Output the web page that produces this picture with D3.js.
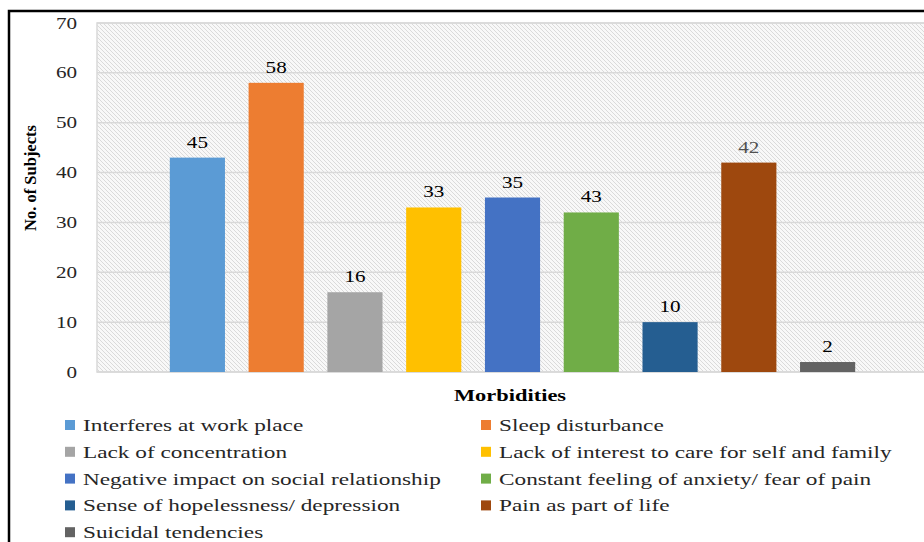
<!DOCTYPE html>
<html>
<head>
<meta charset="utf-8">
<script src="https://cdn.jsdelivr.net/npm/d3@7"></script>
<style>
  html, body { margin: 0; padding: 0; background: #fff; }
  svg { display: block; }
  text { font-family: "Liberation Serif", "Times New Roman", serif; }
</style>
</head>
<body>
<svg id="chart" width="924" height="542"></svg>
<script>
const categories = [
  "Interferes at work place",
  "Sleep disturbance",
  "Lack of concentration",
  "Lack of interest to care for self and family",
  "Negative impact on social relationship",
  "Constant feeling of anxiety/ fear of pain",
  "Sense of hopelessness/ depression",
  "Pain as part of life",
  "Suicidal tendencies"
];
const barValues = [43, 58, 16, 33, 35, 32, 10, 42, 2];
const barLabels = ["45", "58", "16", "33", "35", "43", "10", "42", "2"];
const colors = ["#5B9BD5", "#ED7D31", "#A5A5A5", "#FFC000", "#4472C4", "#70AD47", "#255E91", "#9E480E", "#636363"];
const yTicks = [0, 10, 20, 30, 40, 50, 60, 70];

const SX = 1.32; // horizontal stretch of the source image text
const svg = d3.select("#chart");

const plot = { left: 97, top: 23, right: 930, bottom: 372 };

const y = d3.scaleLinear().domain([0, 70]).range([plot.bottom, plot.top]);
const x = d3.scaleBand().domain(categories).range([158, 867]).paddingInner(0.3).paddingOuter(0.15);

// pattern for plot background
const defs = svg.append("defs");
const pat = defs.append("pattern")
  .attr("id", "hatch").attr("patternUnits", "userSpaceOnUse")
  .attr("width", 4).attr("height", 4);
pat.append("rect").attr("width", 4).attr("height", 4).attr("fill", "#f8f8f8");
pat.append("path").attr("d", "M-1,-1 L5,5 M-1,3 L1,5 M3,-1 L5,1")
  .attr("stroke", "#dadada").attr("stroke-width", 1);

svg.append("rect")
  .attr("x", plot.left).attr("y", plot.top)
  .attr("width", plot.right - plot.left).attr("height", plot.bottom - plot.top)
  .attr("fill", "url(#hatch)")
  .attr("stroke", "#d9d9d9").attr("stroke-width", 1.5);

// gridlines
svg.append("g").selectAll("line").data(yTicks).join("line")
  .attr("x1", plot.left).attr("x2", plot.right)
  .attr("y1", d => y(d)).attr("y2", d => y(d))
  .attr("stroke", "#d9d9d9").attr("stroke-width", 1.5);

function stretchedText(parent, tx, ty, str, opts) {
  const g = parent.append("g").attr("transform", `translate(${tx},${ty}) scale(${opts.sx || SX},1)`);
  return g.append("text")
    .attr("x", 0).attr("y", 0)
    .attr("text-anchor", opts.anchor || "start")
    .attr("font-size", opts.size)
    .attr("font-weight", opts.weight || "normal")
    .attr("fill", opts.fill || "#000")
    .text(str);
}

// y tick labels
const yl = svg.append("g");
yTicks.forEach(t => {
  stretchedText(yl, 77, y(t) + 5.5, String(t), { anchor: "end", size: 16, fill: "#262626" });
});

// bars
svg.append("g").selectAll("rect").data(categories).join("rect")
  .attr("x", d => x(d))
  .attr("y", (d, i) => y(barValues[i]))
  .attr("width", x.bandwidth())
  .attr("height", (d, i) => y(0) - y(barValues[i]))
  .attr("fill", (d, i) => colors[i]);

// bar labels
const bl = svg.append("g");
categories.forEach((c, i) => {
  stretchedText(bl, x(c) + x.bandwidth() / 2, y(barValues[i]) - 10, barLabels[i],
    { anchor: "middle", size: 16, fill: i === 7 ? "#505050" : "#000" });
});

// axis titles
stretchedText(svg, 510, 401, "Morbidities", { anchor: "middle", size: 17, weight: "bold" });
svg.append("text")
  .attr("transform", "translate(36,178) rotate(-90)")
  .attr("text-anchor", "middle")
  .attr("font-size", 16.5).attr("font-weight", "bold")
  .text("No. of Subjects");

// legend
const lg = svg.append("g");
categories.forEach((c, i) => {
  const col = i % 2, row = Math.floor(i / 2);
  const mx = col === 0 ? 65 : 481;
  const cy = 425 + row * 26.8;
  lg.append("rect").attr("x", mx).attr("y", cy - 5).attr("width", 10).attr("height", 10).attr("fill", colors[i]);
  stretchedText(lg, mx + 18, cy + 6, c, { size: 17.5, fill: "#262626", sx: 1.33 });
});

// outer frame
svg.append("rect")
  .attr("x", 9).attr("y", 11).attr("width", 940).attr("height", 560)
  .attr("fill", "none").attr("stroke", "#000").attr("stroke-width", 2.5);
</script>
</body>
</html>
